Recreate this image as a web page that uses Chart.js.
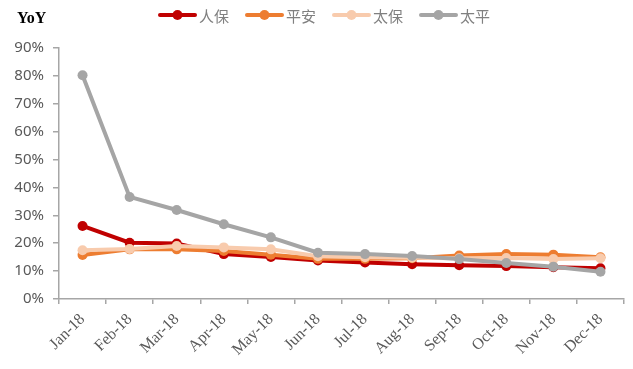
<!DOCTYPE html>
<html>
<head>
<meta charset="utf-8">
<script src="https://cdn.jsdelivr.net/npm/chart.js@4"></script>
<style>
html,body{margin:0;padding:0;background:#fff;}
#wrap{width:633px;height:369px;position:relative;}
</style>
</head>
<body>
<div id="wrap"><canvas id="c" width="633" height="369"></canvas></div>
<script>
const categories = ['Jan-18','Feb-18','Mar-18','Apr-18','May-18','Jun-18','Jul-18','Aug-18','Sep-18','Oct-18','Nov-18','Dec-18'];
const seriesNames = ['人保','平安','太保','太平'];
const renbao = [26.2, 20.2, 19.9, 16.1, 15.1, 13.8, 13.1, 12.5, 12.1, 11.8, 11.4, 11.0];
const pingan = [15.8, 17.8, 17.8, 17.2, 15.9, 14.4, 14.4, 14.6, 15.6, 16.1, 15.9, 15.0];
const taibao = [17.5, 17.9, 19.0, 18.5, 17.8, 15.3, 15.0, 14.8, 14.6, 14.7, 14.3, 14.6];
const taiping = [80.2, 36.6, 31.9, 26.8, 22.1, 16.6, 16.1, 15.4, 14.3, 12.9, 11.6, 9.8];
const yTicks = [0,10,20,30,40,50,60,70,80,90];
const colors = ['#C00000','#ED7D31','#F8CBAD','#A5A5A5'];
const axisTitle = 'YoY';

const seriesData = [renbao, pingan, taibao, taiping];

const legendPlugin = {
  id: 'customLegend',
  afterDraw(chart) {
    const ctx = chart.ctx;
    ctx.save();
    ctx.font = 'bold 16px "Liberation Serif", serif';
    ctx.fillStyle = '#000';
    ctx.textBaseline = 'middle';
    ctx.textAlign = 'left';
    ctx.fillText(axisTitle, 17, 19);
    const start = 158, pitch = 87, y = 15, len = 39;
    chart.data.datasets.forEach((ds, i) => {
      const x0 = start + i * pitch;
      ctx.strokeStyle = ds.borderColor;
      ctx.lineWidth = 4;
      ctx.lineCap = 'round';
      ctx.beginPath();
      ctx.moveTo(x0 + 2, y);
      ctx.lineTo(x0 + len - 2, y);
      ctx.stroke();
      ctx.fillStyle = ds.borderColor;
      ctx.beginPath();
      ctx.arc(x0 + len / 2, y, 5, 0, Math.PI * 2);
      ctx.fill();
      ctx.fillStyle = '#808080';
      ctx.font = '15px "Noto Sans CJK SC", sans-serif';
      ctx.textBaseline = 'middle';
      ctx.fillText(ds.label, x0 + len + 2, y + 1);
    });
    ctx.restore();
  }
};

new Chart(document.getElementById('c'), {
  type: 'line',
  data: {
    labels: categories,
    datasets: seriesNames.map((n, i) => ({
      label: n,
      data: seriesData[i],
      borderColor: colors[i],
      backgroundColor: colors[i],
      pointBackgroundColor: colors[i],
      pointBorderColor: colors[i],
      pointRadius: 5,
      pointBorderWidth: 0,
      borderWidth: 4,
      tension: 0,
      order: 3 - i
    }))
  },
  options: {
    responsive: false,
    animation: false,
    devicePixelRatio: 1,
    layout: { padding: { top: 48, right: 9, bottom: 0, left: 0 } },
    plugins: { legend: { display: false }, tooltip: { enabled: false }, title: { display: false } },
    scales: {
      x: {
        offset: true,
        grid: { offset: true, drawOnChartArea: false, drawTicks: true, tickLength: 5, color: '#A6A6A6', lineWidth: 1.5 },
        border: { color: '#A6A6A6', width: 1.5 },
        ticks: {
          minRotation: 45, maxRotation: 45, autoSkip: false, padding: 6,
          color: '#595959',
          font: { family: '"Liberation Serif", serif', size: 16 }
        },
        afterFit(scale) { scale.height = 70; }
      },
      y: {
        min: 0, max: 90,
        afterBuildTicks(scale) { scale.ticks = yTicks.map(v => ({ value: v })); },
        grid: { drawOnChartArea: false, drawTicks: true, tickLength: 6, color: '#A6A6A6', lineWidth: 1.5 },
        border: { color: '#A6A6A6', width: 1.5 },
        ticks: {
          padding: 9,
          color: '#595959',
          font: { family: '"Noto Sans", sans-serif', size: 15 },
          callback: v => v + '%'
        },
        afterFit(scale) { scale.width = 59; }
      }
    }
  },
  plugins: [legendPlugin]
});
</script>
</body>
</html>
